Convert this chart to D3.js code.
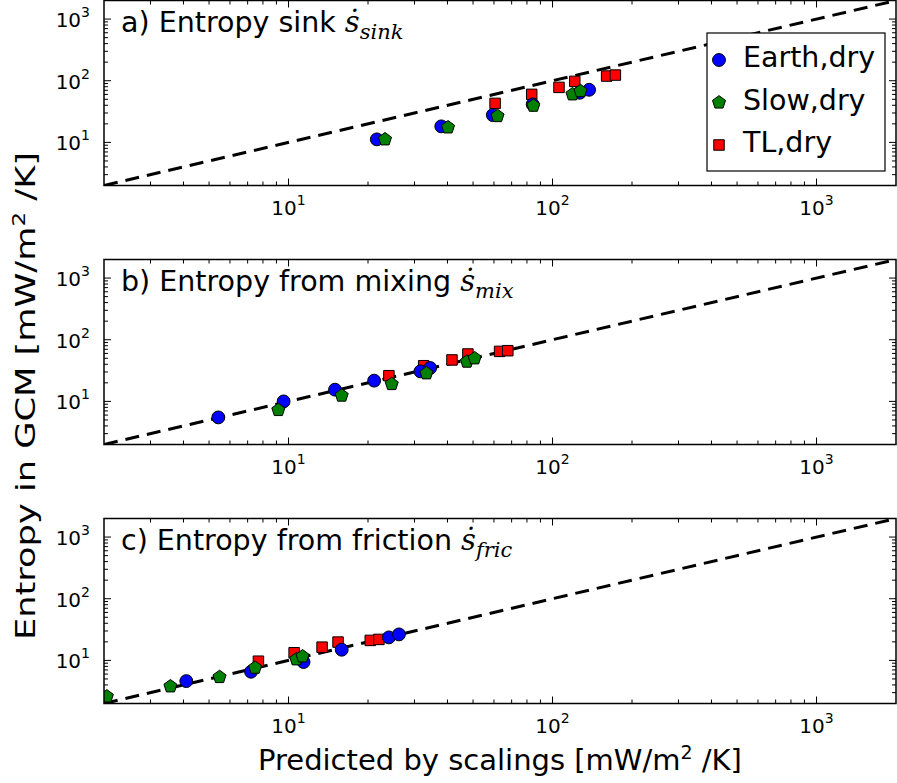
<!DOCTYPE html>
<html>
<head>
<meta charset="utf-8">
<script src="https://cdn.jsdelivr.net/npm/d3@7"></script>
<style>
  body { margin: 0; background: #fff; }
  text { font-family: "DejaVu Sans", sans-serif; fill: #000; }
</style>
</head>
<body>
<div id="chart"></div>
<script>
// series + panel text
const seriesNames = ["Earth,dry", "Slow,dry", "TL,dry"];
const seriesColors = ["#0000ff", "#008000", "#ff0000"];
const panelLabels = ["a) Entropy sink ", "b) Entropy from mixing ", "c) Entropy from friction "];
const panelSubscripts = ["sink", "mix", "fric"];
const majorTicks = [10, 100, 1000];
const majorExponents = ["1", "2", "3"];

// [predicted by scalings, entropy in GCM]  (mW/m^2/K)
const sinkEarth = [[21.6, 11.2], [37.9, 18.2], [59.4, 27.7], [84.1, 41.3], [126.8, 63.8], [137.6, 71.3]];
const sinkSlow = [[23.2, 11.2], [40.2, 17.5], [61.9, 26.7], [84.6, 39.3], [119, 60.1], [127.6, 67.9]];
const sinkTL = [[60.6, 42.9], [83.4, 60.1], [105.8, 78], [121.4, 97.6], [160.3, 119], [173, 123.5]];

const mixEarth = [[5.42, 5.5], [9.58, 10], [15.0, 15.5], [21.1, 21.7], [31.6, 30.7], [34.4, 34.8]];
const mixSlow = [[9.15, 7.25], [15.9, 12.4], [24.6, 19.1], [33.3, 28.5], [47.4, 44.1], [50.7, 49.9]];
const mixTL = [[24.0, 26.1], [32.5, 37.9], [41.6, 47], [47.8, 58.7], [63, 64.7], [67.7, 66.4]];

const fricEarth = [[4.1, 4.62], [7.21, 6.55], [11.4, 9.4], [15.9, 14.9], [24, 23.6], [26.2, 26.4]];
const fricSlow = [[2.05, 2.6], [3.57, 3.79], [5.48, 5.37], [7.47, 7.6], [10.7, 10.4], [11.3, 11.6]];
const fricTL = [[7.69, 9.7], [10.5, 13.3], [13.4, 16.4], [15.4, 19.8], [20.4, 21.1], [22, 21.9]];

const panelData = [
  [sinkEarth, sinkSlow, sinkTL],
  [mixEarth, mixSlow, mixTL],
  [fricEarth, fricSlow, fricTL],
];
const oneToOne = [2, 2000];

const width = 897, height = 783;
const left = 104, right = 896;
const panelTops = [0.5, 259.5, 518.5];
const panelH = 185;

// custom pentagon for d3.symbol
const pentagon = {
  draw(context, size) {
    const r = Math.sqrt(size / (2.5 * Math.sin(2 * Math.PI / 5)));
    for (let i = 0; i < 5; i++) {
      const a = -Math.PI / 2 + i * 2 * Math.PI / 5;
      const x = r * Math.cos(a), y = r * Math.sin(a);
      if (i === 0) context.moveTo(x, y); else context.lineTo(x, y);
    }
    context.closePath();
  },
};
const symbolTypes = [d3.symbolCircle, pentagon, d3.symbolSquare];
const symbolSizes = [130, 112, 110];
const drawOrder = [2, 0, 1]; // TL below, Slow on top

const svg = d3.select("#chart").append("svg")
  .attr("width", width)
  .attr("height", height);

const xScale = d3.scaleLog().domain([2, 2000]).range([left, right]);
const minorVals = [];
for (let e = 0; e < 4; e++) {
  for (let m = 2; m <= 9; m++) {
    const v = m * Math.pow(10, e);
    if (v > 2 && v < 2000) minorVals.push(v);
  }
}

function tickLabel(sel, exp) {
  sel.text("10");
  sel.append("tspan")
    .attr("font-size", 14)
    .attr("dy", -10)
    .text(exp);
}

const mathFont = "'DejaVu Serif', serif";

panelData.forEach((series, pi) => {
  const top = panelTops[pi];
  const yScale = d3.scaleLog().domain([2, 2000]).range([top + panelH, top]);
  const g = svg.append("g");

  const clipId = "clip" + pi;
  svg.append("clipPath").attr("id", clipId)
    .append("rect")
    .attr("x", left).attr("y", top)
    .attr("width", right - left).attr("height", panelH);

  // ticks, inward on all four sides
  const tickG = g.append("g").attr("stroke", "#000").attr("stroke-width", 1);
  [...majorTicks.map((v) => [v, 7]), ...minorVals.map((v) => [v, 4])].forEach(([v, len]) => {
    const x = xScale(v);
    tickG.append("line").attr("x1", x).attr("x2", x)
      .attr("y1", top + panelH).attr("y2", top + panelH - len);
    tickG.append("line").attr("x1", x).attr("x2", x)
      .attr("y1", top).attr("y2", top + len);
    const y = yScale(v);
    tickG.append("line").attr("y1", y).attr("y2", y)
      .attr("x1", left).attr("x2", left + len);
    tickG.append("line").attr("y1", y).attr("y2", y)
      .attr("x1", right).attr("x2", right - len);
  });

  // tick labels
  majorTicks.forEach((v, i) => {
    g.append("text")
      .attr("x", xScale(v))
      .attr("y", top + panelH + 29)
      .attr("text-anchor", "middle")
      .attr("font-size", 20)
      .call(tickLabel, majorExponents[i]);
    g.append("text")
      .attr("x", left - 14)
      .attr("y", yScale(v) + 8)
      .attr("text-anchor", "end")
      .attr("font-size", 20)
      .call(tickLabel, majorExponents[i]);
  });

  const plot = g.append("g").attr("clip-path", `url(#${clipId})`);

  // 1:1 line
  const line = d3.line().x((d) => xScale(d)).y((d) => yScale(d));
  plot.append("path")
    .attr("d", line(oneToOne))
    .attr("fill", "none")
    .attr("stroke", "#000")
    .attr("stroke-width", 3)
    .attr("stroke-dasharray", "14,8");

  drawOrder.forEach((si) => {
    plot.append("g").selectAll("path")
      .data(series[si])
      .join("path")
      .attr("transform", (d) => `translate(${xScale(d[0])},${yScale(d[1])})`)
      .attr("d", d3.symbol().type(symbolTypes[si]).size(symbolSizes[si]))
      .attr("fill", seriesColors[si])
      .attr("stroke", "#000")
      .attr("stroke-width", 1);
  });

  // frame
  g.append("rect")
    .attr("x", left).attr("y", top)
    .attr("width", right - left).attr("height", panelH)
    .attr("fill", "none")
    .attr("stroke", "#000")
    .attr("stroke-width", 1.5);

  // panel title
  const title = g.append("text")
    .attr("x", 121)
    .attr("y", top + 31.5)
    .attr("font-size", 28.5)
    .text(panelLabels[pi]);
  title.append("tspan")
    .style("font-family", mathFont)
    .style("font-style", "italic")
    .attr("font-size", 29)
    .text("\u1E61");
  title.append("tspan")
    .style("font-family", mathFont)
    .style("font-style", "italic")
    .attr("font-size", 21)
    .attr("dy", 7)
    .text(panelSubscripts[pi]);
});

// legend in panel a
const legend = svg.append("g");
legend.append("rect")
  .attr("x", 707).attr("y", 33)
  .attr("width", 178).attr("height", 138)
  .attr("fill", "#fff")
  .attr("stroke", "#000")
  .attr("stroke-width", 1.2);
seriesNames.forEach((name, i) => {
  const cy = 60 + i * 42.5;
  legend.append("path")
    .attr("transform", `translate(719,${cy})`)
    .attr("d", d3.symbol().type(symbolTypes[i]).size(symbolSizes[i]))
    .attr("fill", seriesColors[i])
    .attr("stroke", "#000")
    .attr("stroke-width", 1);
  legend.append("text")
    .attr("x", 743)
    .attr("y", cy + 7)
    .attr("font-size", 28.5)
    .text(name);
});

// axis labels
const xLabel = svg.append("text")
  .attr("x", 500)
  .attr("y", 770)
  .attr("text-anchor", "middle")
  .attr("font-size", 29)
  .text("Predicted by scalings [mW/m");
xLabel.append("tspan").attr("font-size", 19).attr("dy", -11).text("2");
xLabel.append("tspan").attr("dy", 11).text(" /K]");

const yLabel = svg.append("text")
  .attr("transform", "translate(35,396) rotate(-90)")
  .attr("text-anchor", "middle")
  .attr("font-size", 26)
  .attr("textLength", 488)
  .attr("lengthAdjust", "spacingAndGlyphs")
  .text("Entropy in GCM [mW/m");
yLabel.append("tspan").attr("font-size", 17).attr("dy", -10).text("2");
yLabel.append("tspan").attr("dy", 10).text(" /K]");
</script>
</body>
</html>
